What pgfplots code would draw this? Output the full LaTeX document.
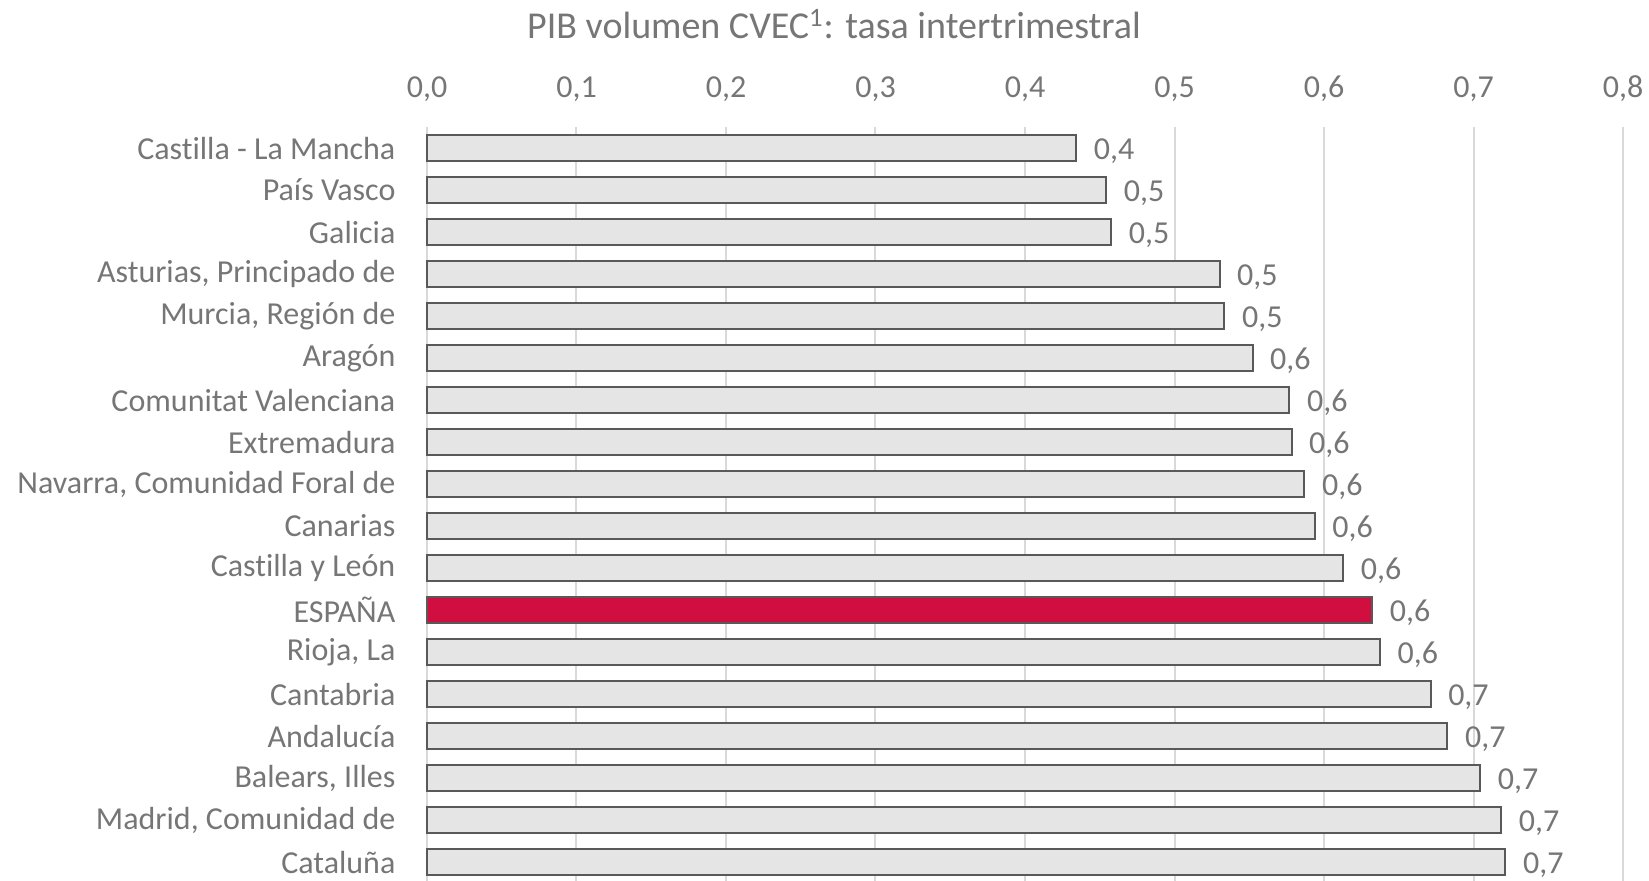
\documentclass[border=0pt]{standalone}
\usepackage{pgfplots}
\pgfplotsset{compat=1.18}
\usepackage{fontspec}
\setmainfont{Carlito}[Ligatures=NoCommon]
\definecolor{txt}{RGB}{118,118,118}
\definecolor{barfill}{RGB}{229,229,229}
\definecolor{barline}{RGB}{89,89,89}
\definecolor{espred}{RGB}{208,14,64}
\definecolor{gridc}{RGB}{217,217,217}
\begin{document}
\begin{tikzpicture}
\begin{axis}[
  at={(0,0)}, anchor=south west,
  width=598pt, height=378pt, scale only axis,
  xmin=0, xmax=0.8, ymin=-0.5, ymax=17.5, y dir=reverse,
  axis line style={draw=none},
  xtick={0,0.1,0.2,0.3,0.4,0.5,0.6,0.7,0.8},
  xticklabel pos=upper,
  xmajorgrids, major grid style={gridc, line width=1pt},
  tick style={draw=none},
  ytick={0,...,17},
  yticklabels={Castilla - La Mancha, País Vasco, Galicia, {Asturias, Principado de}, {Murcia, Región de}, Aragón, Comunitat Valenciana, Extremadura, {Navarra, Comunidad Foral de}, Canarias, Castilla y León, ESPAÑA, {Rioja, La}, Cantabria, Andalucía, {Balears, Illes}, {Madrid, Comunidad de}, Cataluña},
  yticklabel style={font=\fontsize{16}{19}\selectfont, text=txt, xshift=-8pt},
  xticklabel style={font=\fontsize{16}{19}\selectfont, text=txt, yshift=9pt},
  /pgf/number format/assume math mode=true,
  /pgf/number format/fixed, /pgf/number format/fixed zerofill, /pgf/number format/precision=1, /pgf/number format/use comma,
  xbar, bar width=13pt, bar shift=0pt,
  nodes near coords={\pgfmathprintnumber[fixed,fixed zerofill,precision=1,use comma,assume math mode=true]{\pgfplotspointmeta}},
  nodes near coords style={font=\fontsize{16}{19}\selectfont, text=txt, xshift=5pt, yshift=-1.5pt},
  clip=false,
]
\addplot[fill=barfill, draw=barline, line width=1pt, bar shift=0pt] coordinates {
(0.4343,0) (0.4543,1) (0.4576,2) (0.5301,3) (0.5334,4) (0.5522,5) (0.5769,6) (0.5783,7) (0.5869,8) (0.5938,9) (0.6129,10) (0.6375,12) (0.6713,13) (0.6826,14) (0.7045,15) (0.7186,16) (0.7214,17)
};
\addplot[fill=espred, draw=barline, line width=1pt, bar shift=0pt] coordinates {(0.6322,11)};
\end{axis}
\node[text=txt, font=\fontsize{19}{23}\selectfont] at (203.5pt,429.5pt) {PIB volumen CVEC\textsuperscript{1}: tasa intertrimestral};
\pgfresetboundingbox
\path[use as bounding box] (-213.5pt,1.5pt) rectangle (611pt,441.5pt);
\end{tikzpicture}
\end{document}
